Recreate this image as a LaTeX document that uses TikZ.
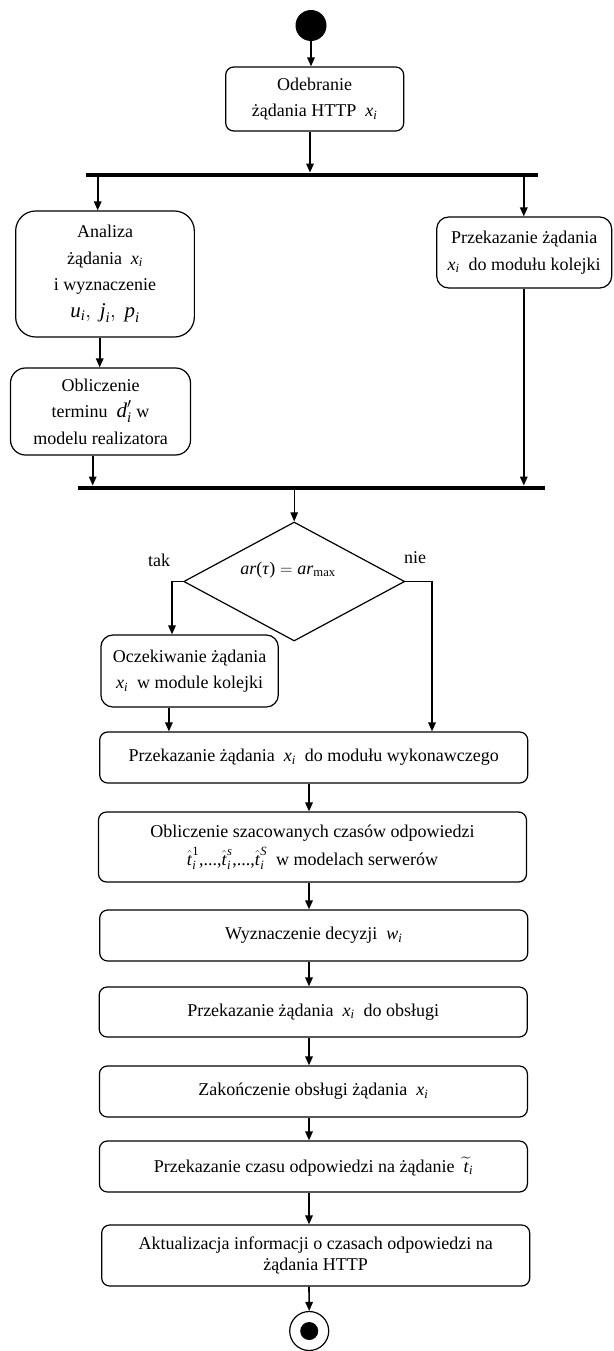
\documentclass[tikz,border=0pt]{standalone}
\usepackage{fontspec}
\usepackage{amsmath}
\setmainfont{Liberation Serif}
\usetikzlibrary{shapes.geometric,arrows.meta}
\newcommand\vi[1]{\text{\textit{#1}}}
\newcommand\xsub{$\vi{x}_{\vi{i}}$}
\newcommand\that{\hat{\vi{t}}}
\begin{document}
\begin{tikzpicture}[x=1pt,y=-1pt,
  box/.style={draw, rounded corners=8pt, line width=1.2pt, align=center, inner sep=0pt,
    font=\fontsize{18}{26.5}\selectfont},
  arr/.style={line width=1.6pt, -{Triangle[length=9pt,width=7.5pt]}},
  thinarr/.style={line width=0.7pt, -{Triangle[length=9pt,width=7.5pt]}},
  bar/.style={fill, inner sep=0pt, minimum height=4.5pt},
  lbl/.style={font=\fontsize{18}{20}\selectfont, inner sep=0pt}]
\useasboundingbox (0,0) rectangle (613,1351);

% start / end
\node[circle, fill, inner sep=0pt, minimum size=31pt] (start) at (311,25.5) {};

% boxes
\node[box, minimum width=178pt, minimum height=64pt] (odb) at (314.7,99)
  {Odebranie\\żądania HTTP\ \ \xsub};
\node[fill, bar, minimum width=451.5pt] (bar1) at (311.75,175) {};
\node[box, rounded corners=20pt, minimum width=178.7pt, minimum height=126pt] (anal) at (105,274)
  {Analiza\\żądania\ \ \xsub\\i wyznaczenie\\{\fontsize{21}{26}\selectfont$\vi{u}_{\vi{i}},\ \vi{j}_{\vi{i}},\ \vi{p}_{\vi{i}}$}};
\node[box, rounded corners=12pt, minimum width=175pt, minimum height=71pt] (prz1) at (524.2,252.5)
  {Przekazanie żądania\\\xsub\ \ do modułu kolejki};
\node[box, rounded corners=15pt, minimum width=180pt, minimum height=87pt] (obl) at (100.5,411.5)
  {Obliczenie\\terminu\ \ {\fontsize{21}{26}\selectfont$\vi{d}'_{\vi{i}}$}\ w\\modelu realizatora};
\node[bar, minimum width=466.4pt] (bar2) at (311.4,488) {};

\node[diamond, draw, line width=1.2pt, inner sep=0pt, minimum width=221pt, minimum height=119pt] (dia) at (294.2,581.5) {};
\node[lbl] (dtext) at (288,570) {$\vi{ar}\text{(}\vi{τ}\text{)} = \vi{ar}_{\text{max}}$};
\node[lbl] (tak) at (159,560) {tak};
\node[lbl] (nie) at (415,557.5) {nie};

\node[box, rounded corners=12pt, minimum width=177.4pt, minimum height=72pt] (ocz) at (189.6,671)
  {Oczekiwanie żądania\\\xsub\ \ w module kolejki};
\node[box, minimum width=428pt, minimum height=51pt] (wyk) at (313.7,757.5)
  {Przekazanie żądania\ \ \xsub\ \ do modułu wykonawczego};
\node[box, font=\fontsize{18}{28}\selectfont, minimum width=428pt, minimum height=70pt] (szac) at (312.5,847)
  {Obliczenie szacowanych czasów odpowiedzi\\$\that^{\text{1}}_{\vi{i}}\text{,...,}\that^{\vi{s}}_{\vi{i}}\text{,...,}\that^{\vi{S}}_{\vi{i}}$\ \ w modelach serwerów};
\node[box, minimum width=428pt, minimum height=51pt] (wyz) at (313.7,935.5)
  {Wyznaczenie decyzji\ \ $\vi{w}_{\vi{i}}$};
\node[box, minimum width=428pt, minimum height=50pt] (obs) at (313.2,1012)
  {Przekazanie żądania\ \ \xsub\ \ do obsługi};
\node[box, minimum width=428pt, minimum height=51pt] (zak) at (313.4,1091.5)
  {Zakończenie obsługi żądania\ \ \xsub};
\node[box, minimum width=428pt, minimum height=51pt] (czas) at (313.4,1166.5)
  {Przekazanie czasu odpowiedzi na żądanie\ \ $\widetilde{\vi{t}}_{\vi{i}}$};
\node[box, font=\fontsize{18}{20.7}\selectfont, minimum width=428pt, minimum height=61pt] (akt) at (315.7,1255.5)
  {Aktualizacja informacji o czasach odpowiedzi na\\żądania HTTP};

\node[circle, draw, line width=1.2pt, inner sep=0pt, minimum size=39pt] (endc) at (309.2,1331) {};
\node[circle, fill, inner sep=0pt, minimum size=18pt] (endin) at (endc.center) {};

% column coordinates
\coordinate (cx) at (309,0);
\coordinate (cl) at (97.7,0);
\coordinate (cl2) at (99.7,0);
\coordinate (cl3) at (92.7,0);
\coordinate (cr) at (523.8,0);
\coordinate (ct) at (172,0);
\coordinate (cn) at (432,0);
\coordinate (co) at (168.9,0);

% connectors
\draw[arr] (start.south) -- (start.south |- odb.north);
\draw[arr] ([xshift=-4.7pt]odb.south) -- ([xshift=-4.7pt]odb.south |- bar1.north);
\draw[arr] (bar1.south -| cl) -- (anal.north -| cl);
\draw[arr] (bar1.south -| cr) -- (prz1.north -| cr);
\draw[arr] (anal.south -| cl2) -- (obl.north -| cl2);
\draw[arr] (obl.south -| cl3) -- (bar2.north -| cl3);
\draw[arr] (prz1.south -| cr) -- (bar2.north -| cr);
\draw[thinarr] (bar2.south -| dia.north) -- (dia.north);
\draw[arr] (dia.west) -| (ocz.north -| ct);
\draw[arr] (dia.east) -| (wyk.north -| cn);
\draw[arr] (ocz.south -| co) -- (wyk.north -| co);
\foreach \a/\b in {wyk/szac, szac/wyz, wyz/obs, obs/zak, zak/czas, czas/akt}
  \draw[arr] (\a.south -| cx) -- (\b.north -| cx);
\draw[arr] (akt.south -| cx) -- (endc.north);
\end{tikzpicture}
\end{document}
